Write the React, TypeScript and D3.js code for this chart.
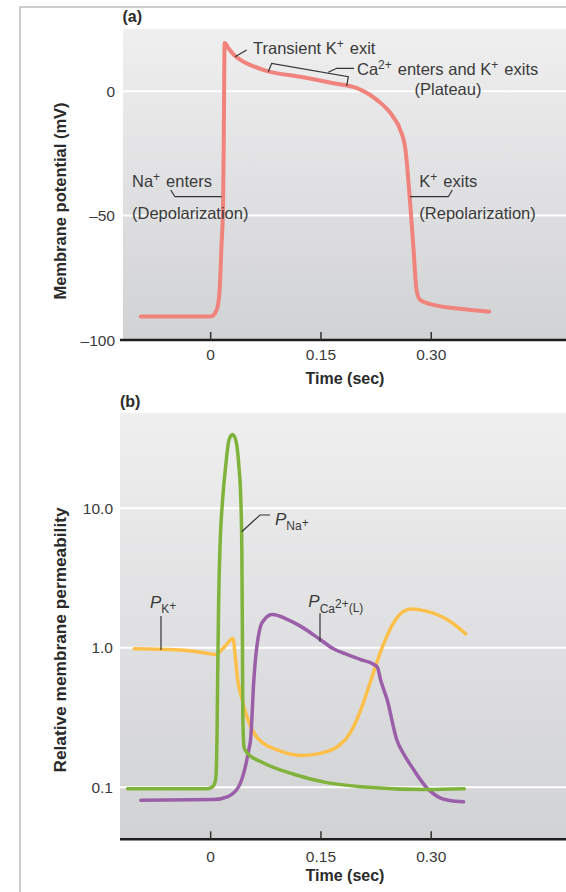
import React from 'react';
import * as d3 from 'd3';

// (a) action potential
const apTime = [-0.095, 0, 0.0054, 0.0095, 0.0122, 0.0145, 0.017, 0.0179, 0.019, 0.0244, 0.0316, 0.0421, 0.0543, 0.077, 0.122, 0.167, 0.199, 0.226, 0.248, 0.258, 0.265, 0.271, 0.276, 0.28, 0.285, 0.303, 0.348, 0.379];
const apVoltage = [-90.6, -90.6, -89.5, -86.6, -79.9, -63.8, -43.7, -15.6, 19.4, 17.2, 14.6, 12.3, 10.5, 8.1, 5.8, 3.2, 1.2, -3.5, -10.2, -15.6, -23.6, -43.7, -63.8, -79.9, -83.9, -85.9, -87.7, -88.6];

// (b) relative permeabilities
const naTime = [-0.113, -0.0045, 0.0027, 0.0068, 0.0079, 0.0086, 0.0095, 0.0109, 0.0126, 0.0163, 0.0204, 0.0251, 0.0295, 0.0339, 0.0384, 0.041, 0.0424, 0.0432, 0.0438, 0.0455, 0.0502, 0.0679, 0.113, 0.158, 0.204, 0.294, 0.345];
const naPerm = [0.0975, 0.0975, 0.101, 0.114, 0.146, 0.22, 0.593, 2.22, 5.07, 11.6, 20, 31.1, 33.8, 31.1, 20, 11.6, 5.07, 1.15, 0.307, 0.193, 0.175, 0.153, 0.124, 0.108, 0.101, 0.0964, 0.0976];

const kTime = [-0.104, -0.0362, -0.0068, 0.0068, 0.019, 0.0303, 0.0339, 0.0367, 0.042, 0.0516, 0.0656, 0.095, 0.1249, 0.1493, 0.1765, 0.19, 0.2036, 0.2172, 0.2331, 0.2488, 0.2624, 0.2742, 0.285, 0.321, 0.347];
const kPerm = [0.983, 0.961, 0.918, 0.895, 1.02, 1.166, 0.824, 0.593, 0.441, 0.296, 0.22, 0.182, 0.169, 0.175, 0.203, 0.247, 0.352, 0.569, 1.0, 1.51, 1.83, 1.9, 1.87, 1.6, 1.26];

const caTime = [-0.095, 0.0045, 0.0227, 0.0384, 0.0462, 0.052, 0.0543, 0.0588, 0.0679, 0.0733, 0.0838, 0.104, 0.122, 0.149, 0.167, 0.186, 0.204, 0.222, 0.227, 0.231, 0.24, 0.253, 0.2647, 0.276, 0.285, 0.294, 0.3027, 0.312, 0.3258, 0.344];
const caPerm = [0.0809, 0.0818, 0.0855, 0.1018, 0.134, 0.187, 0.22, 0.593, 1.43, 1.6, 1.73, 1.6, 1.43, 1.147, 0.983, 0.895, 0.824, 0.759, 0.722, 0.593, 0.426, 0.22, 0.166, 0.134, 0.114, 0.0991, 0.0903, 0.084, 0.0804, 0.0787];

const timeTicks = [0, 0.15, 0.3];
const timeTickLabels = ['0', '0.15', '0.30'];
const vTicks = [0, -50, -100];
const vTickLabels = ['0', '\u201350', '\u2013100'];
const pTicks = [10, 1, 0.1];
const pTickLabels = ['10.0', '1.0', '0.1'];

const W = 566;
const H = 892;
const FONT = '"Liberation Sans", Arial, sans-serif';
const TXT = '#3a3a3a';

const x = d3.scaleLinear().domain([-0.1233, 0.4833]).range([120, 566]);
const yA = d3.scaleLinear().domain([-100, 25]).range([340, 29]);
const yB = d3.scaleLog().domain([0.0424, 48.2]).range([839.3, 413]);

const zip = (a: number[], b: number[]) => a.map((v, i) => [v, b[i]] as [number, number]);

const lineA = d3.line<[number, number]>()
  .x(d => x(d[0]))
  .y(d => yA(d[1]))
  .curve(d3.curveMonotoneX);

const lineB = d3.line<[number, number]>()
  .x(d => x(d[0]))
  .y(d => yB(d[1]))
  .curve(d3.curveMonotoneX);

const Sup = ({ children }: { children: React.ReactNode }) => (
  <>
    <tspan dy={-6} fontSize={12}>{children}</tspan>
    <tspan dy={6}>{'\u200a'}</tspan>
  </>
);

const TimeAxis = ({ y0, labelY, titleY }: { y0: number; labelY: number; titleY: number }) => (
  <g>
    <line x1={x.range()[0]} x2={W} y1={y0} y2={y0} stroke="#1e1e1e" strokeWidth={2.5} />
    {timeTicks.map((t, i) => (
      <g key={t}>
        <line x1={x(t)} x2={x(t)} y1={y0} y2={y0 - 8} stroke="#333" strokeWidth={1.5} />
        <text x={x(t)} y={labelY} textAnchor="middle" fontSize={15.5} fill={TXT}>{timeTickLabels[i]}</text>
      </g>
    ))}
    <text x={345} y={titleY} textAnchor="middle" fontSize={16} fontWeight="bold" fill="#2a2a2a">Time (sec)</text>
  </g>
);

export default function App() {
  const leader = { fill: 'none', stroke: '#333', strokeWidth: 1.2 };
  return (
    <div>
      <style>{`body{margin:0}`}</style>
      <svg width={W} height={H} style={{ display: 'block', fontFamily: FONT }}>
        <defs>
          <linearGradient id="bg" x1="0" y1="0" x2="0" y2="1">
            <stop offset="0%" stopColor="#efeff0" />
            <stop offset="100%" stopColor="#d1d2d4" />
          </linearGradient>
        </defs>
        <rect width={W} height={H} fill="#fff" />
        <path d={`M566,7 L20,7 L20,${H}`} fill="none" stroke="#bdbdbd" strokeWidth={1.5} />

        {/* panel (a) */}
        <text x={122.5} y={21.5} fontSize={16} fontWeight="bold" fill="#2a2a2a">(a)</text>
        <rect x={123} y={yA(25)} width={W - 123} height={yA(-100) - yA(25)} fill="url(#bg)" />
        {vTicks.filter(v => v > -100).map(v => (
          <line key={v} x1={123} x2={W} y1={yA(v)} y2={yA(v)} stroke="#fff" strokeWidth={2} />
        ))}
        {vTicks.map((v, i) => (
          <text key={v} x={115} y={yA(v) + 5.5} textAnchor="end" fontSize={15.5} fill={TXT}>{vTickLabels[i]}</text>
        ))}
        <text transform={`translate(66,${201}) rotate(-90)`} textAnchor="middle" fontSize={16.5} fontWeight="bold" fill="#2a2a2a">
          Membrane potential (mV)
        </text>
        <path d={lineA(zip(apTime, apVoltage)) || ''} fill="none" stroke="#f0837c" strokeWidth={4} strokeLinejoin="round" strokeLinecap="round" />

        {/* annotations (a) */}
        <path d="M235,56.7 L246.7,50" {...leader} />
        <text x={253} y={54.3} fontSize={16.5} fill={TXT}>Transient K<Sup>+</Sup> exit</text>
        <path d="M268.3,71.7 L271.7,63.3 L348.3,76.7 L346.7,86" {...leader} />
        <path d="M328.3,72.3 L336.7,68.3 L354,68.3" {...leader} />
        <text x={357} y={75} fontSize={16.5} fill={TXT}>Ca<Sup>2+</Sup> enters and K<Sup>+</Sup> exits</text>
        <text x={448} y={94.5} textAnchor="middle" fontSize={16.5} fill={TXT}>(Plateau)</text>

        <text x={132} y={186.7} fontSize={16.5} fill={TXT}>Na<Sup>+</Sup> enters</text>
        <path d="M170.7,190 L175,196.7 L221.7,196.7" {...leader} />
        <text x={132} y={219} fontSize={16.5} fill={TXT}>(Depolarization)</text>
        <text x={419.3} y={186.7} fontSize={16.5} fill={TXT}>K<Sup>+</Sup> exits</text>
        <path d="M410,196.7 L448.3,196.7 L452.3,190" {...leader} />
        <text x={419.3} y={219} fontSize={16.5} fill={TXT}>(Repolarization)</text>

        <TimeAxis y0={340} labelY={359.5} titleY={384} />

        {/* panel (b) */}
        <text x={120} y={407} fontSize={16} fontWeight="bold" fill="#2a2a2a">(b)</text>
        <rect x={120} y={413} width={W - 120} height={yB.range()[0] - 413} fill="url(#bg)" />
        {pTicks.map((p, i) => (
          <g key={p}>
            <line x1={120} x2={W} y1={yB(p)} y2={yB(p)} stroke="#fff" strokeWidth={2} />
            <text x={113} y={yB(p) + 5.5} textAnchor="end" fontSize={15.5} fill={TXT}>{pTickLabels[i]}</text>
          </g>
        ))}
        <text transform={`translate(66,${640}) rotate(-90)`} textAnchor="middle" fontSize={17.3} fontWeight="bold" fill="#2a2a2a">
          Relative membrane permeability
        </text>

        <path d={lineB(zip(kTime, kPerm)) || ''} fill="none" stroke="#fcc04a" strokeWidth={3.5} strokeLinejoin="round" strokeLinecap="round" />
        <path d={lineB(zip(caTime, caPerm)) || ''} fill="none" stroke="#9a5fa8" strokeWidth={3.5} strokeLinejoin="round" strokeLinecap="round" />
        <path d={lineB(zip(naTime, naPerm)) || ''} fill="none" stroke="#80b33b" strokeWidth={3.5} strokeLinejoin="round" strokeLinecap="round" />

        {/* annotations (b) */}
        <path d="M241.7,531.7 L260,515 L270,515" {...leader} />
        <text x={275} y={525} fontSize={17} fill={TXT}>
          <tspan fontStyle="italic">P</tspan>
          <tspan dy={4.5} fontSize={12}>Na</tspan>
          <tspan dy={-2.5} fontSize={12}>+</tspan>
        </text>
        <path d="M161,616 L161,650" {...leader} />
        <text x={150} y={607.5} fontSize={17} fill={TXT}>
          <tspan fontStyle="italic">P</tspan>
          <tspan dy={5.5} fontSize={12}>K</tspan>
          <tspan dy={-3} fontSize={12}>+</tspan>
        </text>
        <path d="M320,613.3 L320,641.7" {...leader} />
        <text x={308.3} y={606.7} fontSize={17} fill={TXT}>
          <tspan fontStyle="italic">P</tspan>
          <tspan dy={6} fontSize={12}>Ca</tspan>
          <tspan dy={-5} fontSize={12}>2+</tspan>
          <tspan dy={4} fontSize={12}>(L)</tspan>
        </text>

        <TimeAxis y0={839.3} labelY={862} titleY={881} />
      </svg>
    </div>
  );
}
